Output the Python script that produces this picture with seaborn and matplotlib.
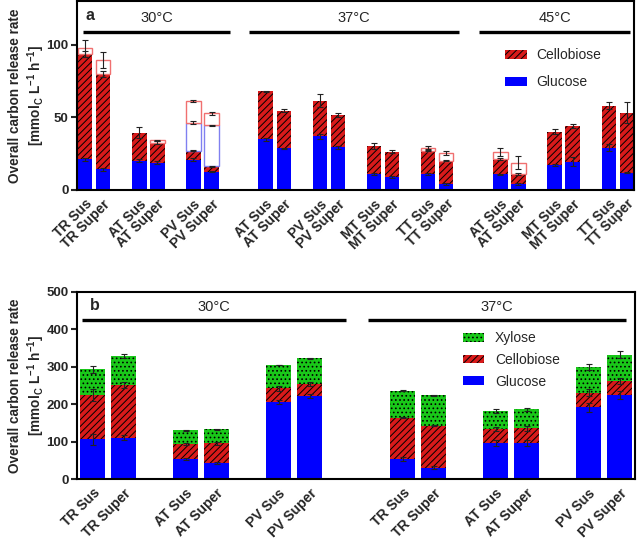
import numpy as np
import matplotlib
matplotlib.use('Agg')
import matplotlib.pyplot as plt
import seaborn as sns
from matplotlib.patches import Patch

# ---- panel a data (mmol C / L / h), segment heights ----
temps_a = ['30°C', '37°C', '45°C']
strains_a = [['TR', 'AT', 'PV'], ['AT', 'PV', 'MT', 'TT'], ['AT', 'MT', 'TT']]
fractions = ['Sus', 'Super']

glc_a = [21.2, 14.3, 20.0, 18.9, 20.7, 12.6,
         35.0, 28.7, 36.8, 29.4, 11.0, 9.0, 11.0, 4.1,
         10.8, 4.1, 17.2, 19.5, 29.2, 12.0]
cel_a = [72.6, 65.7, 19.5, 13.7, 6.4, 3.7,
         32.8, 25.8, 24.6, 22.3, 19.1, 17.2, 16.1, 16.1,
         10.4, 6.9, 23.0, 24.6, 28.7, 41.3]
glc_open_a = [0, 0, 0, 0, 19.3, 28.1,
              0, 0, 0, 0, 0, 0, 0, 0,
              0, 0, 0, 0, 0, 0]
cel_open_a = [3.7, 9.2, 0, 1.5, 14.8, 8.5,
              0, 0, 0, 0, 0, 0, 1.9, 5.1,
              5.0, 7.9, 0, 0, 0, 0]
glc_err_a = [1, 1, 1, 1, 1, 0.5, 1, 0.5, 2, 1, 1, 0.5, 0.5, 0.5, 0.5, 0.5, 0.5, 3, 2.5, 0.5]
cel_err_a = [2, 2, 3.5, 1, 0.5, 0.5, 0.5, 1, 4.5, 1.5, 2, 1, 0.5, 0.5, 0.5, 1, 2, 1.5, 2.5, 7]
glc_open_err_a = [0, 0, 0, 0, 1, 0.5, 0, 0, 0, 0, 0, 0, 0, 0, 0, 0, 0, 0, 0, 0]
cel_open_err_a = [6, 5.5, 0, 0.5, 1, 1, 0, 0, 0, 0, 0, 0, 1, 1.5, 3, 4.5, 0, 0, 0, 0]

# ---- panel b data ----
temps_b = ['30°C', '37°C']
strains_b = [['TR', 'AT', 'PV'], ['TR', 'AT', 'PV']]

glc_b = [106.0, 110.5, 54.4, 42.8, 205.9, 222.8, 53.5, 30.0, 96.3, 96.3, 191.6, 224.6]
cel_b = [118.6, 140.5, 38.3, 52.6, 36.6, 31.2, 110.5, 112.6, 37.4, 39.2, 39.2, 37.4]
xyl_b = [68.7, 78.0, 37.3, 37.4, 62.3, 68.6, 72.0, 81.1, 48.1, 51.5, 67.8, 70.4]
glc_err_b = [14, 6, 3, 3, 5, 5, 5, 4, 9, 9, 12, 11]
cel_err_b = [15, 8, 3, 4, 7, 5, 2, 2, 6, 6, 10, 8]
xyl_err_b = [9, 6, 2, 2, 1, 1, 1, 2, 5, 4, 8, 9]

BLUE = '#0000ff'
RED = '#d81a1a'
GREEN = '#19c819'

sns.set_theme(style='ticks')
plt.rcParams['font.family'] = ['Liberation Sans', 'DejaVu Sans']
plt.rcParams['mathtext.fontset'] = 'custom'
plt.rcParams['mathtext.rm'] = 'Liberation Sans'
plt.rcParams['mathtext.bf'] = 'Liberation Sans:bold'
plt.rcParams['hatch.linewidth'] = 0.7


def layout(strains):
    # slot positions: pairs 3 apart, temperature groups 4 apart
    pos, labels = [], []
    start = 0
    for group in strains:
        for k, s in enumerate(group):
            p = start + 3 * k
            pos += [p, p + 1]
            labels += [s + ' ' + f for f in fractions]
        start = start + 3 * (len(group) - 1) + 4
    return np.array(pos, float), labels


def stack(ax, pos, segs, styles, errs):
    bottom = np.zeros(len(pos))
    for vals, st, e in zip(segs, styles, errs):
        vals = np.asarray(vals, float)
        e = np.asarray(e, float)
        m = vals > 0
        sns.barplot(x=pos[m], y=vals[m], bottom=bottom[m], native_scale=True,
                    width=0.8, errorbar=None, saturation=1, ax=ax, **st)
        top = bottom + vals
        me = m & (e > 0)
        ax.errorbar(pos[me], top[me], yerr=e[me], fmt='none', ecolor='#222222',
                    elinewidth=0.8, capsize=2.5, capthick=0.8, zorder=5)
        bottom = top


glc_style = dict(color=BLUE, edgecolor=BLUE, linewidth=0)
cel_style = dict(color=RED, edgecolor='black', linewidth=0, hatch='/////')
xyl_style = dict(color=GREEN, edgecolor='black', linewidth=0, hatch='....')
glc_open = dict(color='white', edgecolor='#8080f0', linewidth=1)
cel_open = dict(color='white', edgecolor='#f07070', linewidth=1)

fig = plt.figure(figsize=(6.38, 5.43), dpi=100)
ax_a = fig.add_axes([77 / 638, 1 - 190 / 543, 557 / 638, 189 / 543])
ax_b = fig.add_axes([77 / 638, 1 - 479 / 543, 558 / 638, 187 / 543])

ylab = 'Overall carbon release rate\n[mmol$_\\mathbf{C}$ L$^{\\mathbf{-1}}$ h$^{\\mathbf{-1}}$]'

# ---- panel a ----
pos_a, lab_a = layout(strains_a)
stack(ax_a, pos_a, [glc_a, cel_a, glc_open_a, cel_open_a],
      [glc_style, cel_style, glc_open, cel_open],
      [glc_err_a, cel_err_a, glc_open_err_a, cel_open_err_a])
ax_a.set_xlim(-0.45, 30.4)
ax_a.set_ylim(0, 130)
ax_a.set_yticks([0, 50, 100])
line_a = [(-0.13, 8.05), (9.1, 20.7), (21.8, 30.2)]
for (x0, x1), t in zip(line_a, temps_a):
    ax_a.plot([x0, x1], [109, 109], color='black', lw=2.4, solid_capstyle='butt')
    ax_a.text((x0 + x1) / 2, 118.6, t, ha='center', va='center', fontsize=10.5)
ax_a.text(0.26, 120, 'a', ha='center', va='center', fontsize=11.5, fontweight='bold')
ax_a.set_xticks(pos_a)
ax_a.set_xticklabels(lab_a)
ax_a.legend(handles=[Patch(facecolor=RED, edgecolor='black', hatch='/////', lw=0, label='Cellobiose'),
                     Patch(facecolor=BLUE, edgecolor=BLUE, lw=0, label='Glucose')],
            loc='upper left', bbox_to_anchor=(0.768, 0.75), frameon=False, fontsize=10,
            handlelength=1.6, handleheight=0.55, labelspacing=0.95, handletextpad=0.7,
            borderpad=0, borderaxespad=0)

# ---- panel b ----
pos_b, lab_b = layout(strains_b)
stack(ax_b, pos_b, [glc_b, cel_b, xyl_b], [glc_style, cel_style, xyl_style],
      [glc_err_b, cel_err_b, xyl_err_b])
ax_b.set_xlim(-0.5, 17.5)
ax_b.set_ylim(0, 500)
ax_b.set_yticks(range(0, 501, 100))
line_b = [(-0.33, 8.18), (8.89, 17.2)]
for (x0, x1), t in zip(line_b, temps_b):
    ax_b.plot([x0, x1], [426, 426], color='black', lw=2.4, solid_capstyle='butt')
    ax_b.text((x0 + x1) / 2, 461, t, ha='center', va='center', fontsize=10.5)
ax_b.text(0.06, 464, 'b', ha='center', va='center', fontsize=11.5, fontweight='bold')
ax_b.set_xticks(pos_b)
ax_b.set_xticklabels(lab_b)
ax_b.legend(handles=[Patch(facecolor=GREEN, edgecolor='black', hatch='....', lw=0, label='Xylose'),
                     Patch(facecolor=RED, edgecolor='black', hatch='/////', lw=0, label='Cellobiose'),
                     Patch(facecolor=BLUE, edgecolor=BLUE, lw=0, label='Glucose')],
            loc='upper left', bbox_to_anchor=(0.692, 0.79), frameon=False, fontsize=10,
            handlelength=1.5, handleheight=0.55, labelspacing=0.55, handletextpad=0.8,
            borderpad=0, borderaxespad=0)

for ax in (ax_a, ax_b):
    for sp in ax.spines.values():
        sp.set_visible(True)
        sp.set_linewidth(1.5)
        sp.set_color('black')
    ax.tick_params(axis='y', direction='out', length=4, width=1.5, labelsize=9.5, pad=2)
    ax.tick_params(axis='x', length=0, labelsize=10, pad=5)
    for lab in ax.get_xticklabels():
        lab.set_rotation(45)
        lab.set_ha('right')
        lab.set_rotation_mode('anchor')
        lab.set_fontweight('bold')
    for lab in ax.get_yticklabels():
        lab.set_fontweight('bold')
    ax.set_xlabel('')
    ax.set_ylabel(ylab, fontsize=9.8, fontweight='bold', linespacing=1.2)
    ax.yaxis.set_label_coords(-0.054, 0.5)

fig.savefig('out.png', dpi=100)
